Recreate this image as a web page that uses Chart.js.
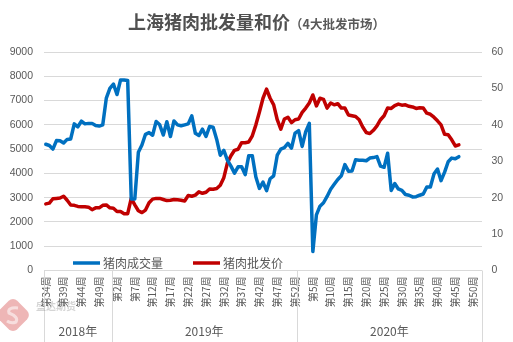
<!DOCTYPE html>
<html>
<head>
<meta charset="utf-8">
<script src="https://cdn.jsdelivr.net/npm/chart.js@4.4.1/dist/chart.umd.min.js"></script>
<style>
  html, body { margin: 0; padding: 0; background: #fff; }
  #wrap { width: 513px; height: 342px; }
</style>
</head>
<body>
<div id="wrap"><canvas id="pork" width="513" height="342"></canvas></div>
<script>
// week groups shown under the axis
const yearNames = ["2018年", "2019年", "2020年"];
const yearFirstWeek = [34, 1, 1];
const yearLastWeek = [52, 52, 52];

// 猪肉成交量 (left axis), weekly from 2018 W34
const volume = [
  5200, 5150, 5000, 5350, 5340, 5250, 5400, 5420, 6040, 5920,
  6150, 6040, 6060, 6060, 5970, 5950, 6000, 7100, 7500, 7680,
  7250, 7850, 7850, 7830, 2950, 2950, 4870, 5170, 5610, 5680,
  5570, 6140, 6000, 5580, 6130, 5520, 6160, 6000, 5960, 6000,
  6040, 6370, 5650, 5560, 5820, 5520, 5930, 5900, 5400, 4750,
  4950, 4550, 4300, 4010, 4270, 4270, 3950, 4730, 4730, 3850,
  3380, 3640, 3290, 3780, 3900, 4750, 5000, 5060, 5240, 5040,
  5660, 5760, 5110, 5720, 6060, 780, 2290, 2650, 2790, 3050,
  3350, 3550, 3750, 3900, 4360, 4090, 4100, 4560, 4540, 4540,
  4520, 4630, 4650, 4690, 4300, 4250, 4830, 3300, 3580, 3360,
  3300, 3130, 3100, 3030, 3040, 3100, 3150, 3440, 3440, 3970,
  4180, 3700, 4050, 4480, 4630, 4600, 4690
];

// 猪肉批发价 (right axis)
const price = [
  18.3, 18.5, 19.7, 19.8, 19.9, 20.4, 19.3, 18.0, 17.9, 17.6,
  17.5, 17.5, 17.4, 16.7, 17.2, 17.2, 17.9, 18.0, 17.2, 17.1,
  16.2, 16.2, 15.6, 15.6, 19.8, 18.0, 16.4, 15.9, 16.6, 18.6,
  19.6, 19.8, 19.8, 19.5, 19.2, 19.3, 19.5, 19.4, 19.3, 19.1,
  20.6, 20.4, 20.7, 21.6, 21.2, 21.5, 22.4, 22.3, 22.5, 23.4,
  25.5, 29.5, 31.5, 33.0, 33.3, 35.1, 35.1, 35.3, 37.0, 40.0,
  43.5, 47.3, 49.8, 47.3, 45.5, 41.4, 38.8, 41.6, 42.1, 40.6,
  41.4, 41.6, 43.4, 44.6, 46.0, 48.2, 45.2, 47.3, 47.0, 44.6,
  46.0, 45.5, 45.8, 44.6, 44.6, 42.7, 42.5, 42.3, 41.4, 39.4,
  37.9, 37.6, 38.5, 39.7, 41.4, 42.5, 44.6, 44.5, 45.3, 45.7,
  45.4, 45.5, 45.1, 44.9, 44.5, 44.7, 44.6, 43.2, 42.9, 42.1,
  41.1, 40.0, 37.4, 37.3, 35.9, 34.2, 34.5
];

const volumeMax = 9000, volumeStep = 1000;
const priceMax = 60, priceStep = 10;

const weeks = [];
const weekGroup = [];
yearNames.forEach((name, k) => {
  for (let w = yearFirstWeek[k]; w <= yearLastWeek[k]; w++) {
    weeks.push("第" + w + "周");
    weekGroup.push(k);
  }
});

const GREY = "#595959";
const CJK = '"Noto Sans CJK SC", "Noto Sans", sans-serif';

const decor = {
  id: "decor",
  beforeDraw(chart) {
    const c = chart.ctx;
    c.save();
    c.fillStyle = "#fff";
    c.fillRect(0, 0, chart.width, chart.height);
    c.restore();
  },
  afterDraw(chart) {
    const c = chart.ctx;
    const a = chart.chartArea;
    const x = chart.scales.x;
    c.save();

    // title
    const main = "上海猪肉批发量和价";
    const sub = "（4大批发市场）";
    c.font = "bold 18px " + CJK;
    const w1 = c.measureText(main).width;
    c.font = "bold 12.5px " + CJK;
    const w2 = c.measureText(sub).width;
    let tx = chart.width / 2 - (w1 + w2) / 2;
    c.textBaseline = "alphabetic";
    c.fillStyle = "#505050";
    c.font = "bold 18px " + CJK;
    c.fillText(main, tx, 29);
    c.fillStyle = GREY;
    c.font = "bold 12.5px " + CJK;
    c.fillText(sub, tx + w1, 28.5);

    // legend
    const items = [
      { label: "猪肉成交量", color: "#0070C0", x: 73 },
      { label: "猪肉批发价", color: "#C00000", x: 193 }
    ];
    c.font = "12px " + CJK;
    c.textBaseline = "middle";
    items.forEach(it => {
      c.strokeStyle = it.color;
      c.lineWidth = 3.5;
      c.beginPath();
      c.moveTo(it.x, 263);
      c.lineTo(it.x + 27, 263);
      c.stroke();
      c.fillStyle = GREY;
      c.fillText(it.label, it.x + 30, 263);
    });

    // year group separators and names
    const edges = [a.left];
    for (let i = 1; i < weeks.length; i++) {
      if (weekGroup[i] !== weekGroup[i - 1]) {
        edges.push((x.getPixelForValue(i - 1) + x.getPixelForValue(i)) / 2);
      }
    }
    edges.push(a.right);
    c.strokeStyle = "#d9d9d9";
    c.lineWidth = 1;
    edges.forEach(e => {
      const px = Math.round(e) + 0.5;
      c.beginPath();
      c.moveTo(px, a.bottom);
      c.lineTo(px, chart.height);
      c.stroke();
    });
    c.fillStyle = GREY;
    c.font = "12px " + CJK;
    c.textAlign = "center";
    yearNames.forEach((n, k) => {
      c.fillText(n, (edges[k] + edges[k + 1]) / 2, 331);
    });

    // faint company mark in the corner
    c.globalAlpha = 0.55;
    c.translate(13, 315);
    c.rotate(Math.PI / 4);
    c.fillStyle = "#e07a7a";
    const s = 26;
    c.beginPath();
    c.roundRect(-s / 2, -s / 2, s, s, 6);
    c.fill();
    c.rotate(-Math.PI / 4);
    c.strokeStyle = "#fff";
    c.lineWidth = 3;
    c.beginPath();
    c.moveTo(5, -7);
    c.quadraticCurveTo(-6, -8, -4, -2);
    c.quadraticCurveTo(6, 2, 3, 7);
    c.quadraticCurveTo(-2, 9, -6, 6);
    c.stroke();
    c.setTransform(1, 0, 0, 1, 0, 0);
    c.globalAlpha = 0.35;
    c.fillStyle = "#888";
    c.font = "bold 10px " + CJK;
    c.textAlign = "left";
    c.fillText("盛达期货", 36, 306);
    c.restore();
  }
};

new Chart(document.getElementById("pork"), {
  type: "line",
  data: {
    labels: weeks,
    datasets: [
      {
        label: "猪肉成交量",
        data: volume,
        yAxisID: "y",
        borderColor: "#0070C0",
        borderWidth: 3.5,
        pointRadius: 0,
        tension: 0,
        borderJoinStyle: "round",
        borderCapStyle: "round"
      },
      {
        label: "猪肉批发价",
        data: price,
        yAxisID: "y1",
        borderColor: "#C00000",
        borderWidth: 3.5,
        pointRadius: 0,
        tension: 0,
        borderJoinStyle: "round",
        borderCapStyle: "round"
      }
    ]
  },
  options: {
    responsive: false,
    animation: false,
    devicePixelRatio: 1,
    layout: { padding: { top: 52, left: 0, right: 0, bottom: 0 } },
    plugins: {
      legend: { display: false },
      tooltip: { enabled: false }
    },
    scales: {
      x: {
        offset: true,
        grid: { display: false, drawTicks: false },
        border: { display: false },
        ticks: {
          autoSkip: false,
          minRotation: 90,
          maxRotation: 90,
          padding: 6,
          color: GREY,
          font: { family: CJK, size: 10 },
          callback: (v, i) => (i % 5 === 0 ? weeks[i] : "")
        },
        afterFit: s => { s.height = 71.5; }
      },
      y: {
        position: "left",
        min: 0,
        max: volumeMax,
        grid: { color: "#d9d9d9", drawTicks: false },
        border: { display: false },
        ticks: {
          stepSize: volumeStep,
          padding: 11,
          color: GREY,
          font: { family: '"Liberation Sans", sans-serif', size: 10.5 },
          callback: v => String(v)
        },
        afterFit: s => { s.width = 44; }
      },
      y1: {
        position: "right",
        min: 0,
        max: priceMax,
        grid: { display: false, drawTicks: false },
        border: { display: false },
        ticks: {
          stepSize: priceStep,
          padding: 9.5,
          color: GREY,
          font: { family: '"Liberation Sans", sans-serif', size: 10.5 },
          callback: v => String(v)
        },
        afterFit: s => { s.width = 31; }
      }
    }
  },
  plugins: [decor]
});
</script>
</body>
</html>
